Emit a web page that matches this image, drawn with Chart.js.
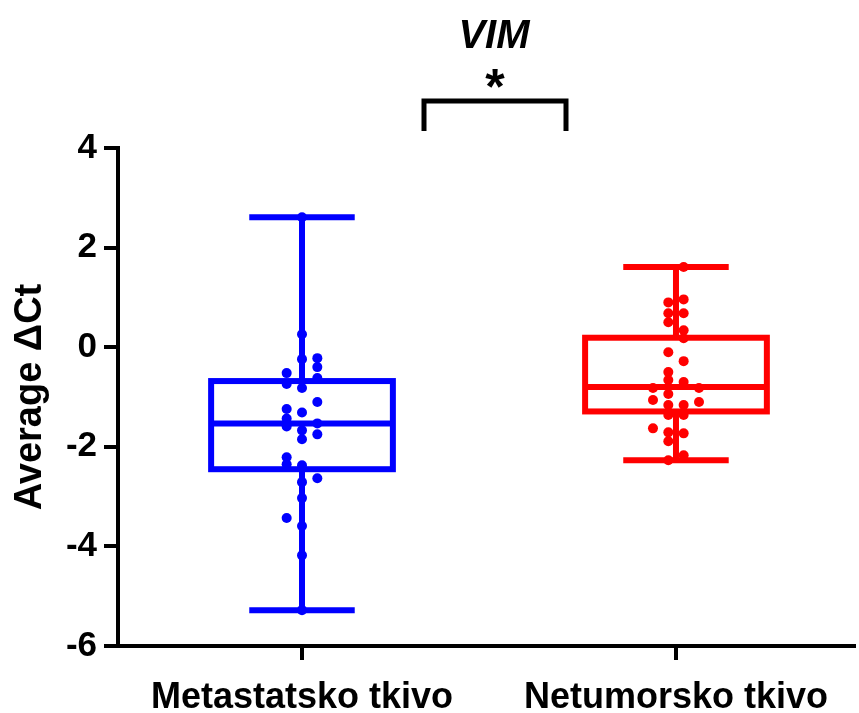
<!DOCTYPE html>
<html>
<head>
<meta charset="utf-8">
<title>VIM</title>
<script src="https://cdn.jsdelivr.net/npm/chart.js@4.4.1/dist/chart.umd.min.js"></script>
<style>
  html, body { margin: 0; padding: 0; background: #ffffff; }
  #wrap { width: 859px; height: 713px; position: relative; }
</style>
</head>
<body>
<div id="wrap"><canvas id="chart" width="859" height="713"></canvas></div>
<script>
// Groups on the x axis
const categories = ['Metastatsko tkivo', 'Netumorsko tkivo'];
const groupColors = ['#0000FF', '#FF0000'];

// Individual average ΔCt values per sample
const metastaticValues = [
  2.61, 0.26, -0.22, -0.24, -0.40, -0.52, -0.62, -0.74, -0.82, -1.10,
  -1.24, -1.31, -1.43, -1.53, -1.59, -1.67, -1.75, -1.85, -2.21, -2.35,
  -2.37, -2.63, -2.71, -3.03, -3.43, -3.59, -4.18, -5.28
];
// Scatter lane of each point (-1 left, 0 centre, 1 right)
const metastaticLanes = [
  0, 0, 1, 0, 1, -1, 1, -1, 0, 1,
  -1, 0, -1, 1, -1, 0, 1, 0, -1, -1,
  0, 1, 0, 0, -1, 0, 0, 0
];

const nontumorValues = [
  1.61, 0.96, 0.90, 0.68, 0.68, 0.50, 0.34, 0.18, -0.10, -0.28,
  -0.50, -0.66, -0.70, -0.82, -0.82, -0.94, -1.06, -1.10, -1.16, -1.16,
  -1.36, -1.36, -1.63, -1.71, -1.73, -1.89, -2.17, -2.27
];
const nontumorLanes = [
  0.5, 0.5, -0.5, -0.5, 0.5, -0.5, 0.5, 0.5, -0.5, 0.5,
  -0.5, -0.5, 0.5, -1.5, 1.5, -0.5, -1.5, 1.5, -0.5, 0.5,
  -0.5, 0.5, -1.5, -0.5, 0.5, -0.5, 0.5, -0.5
];

// Box summaries: [min, Q1, median, Q3, max]
const metastaticBox = [-5.28, -2.45, -1.53, -0.68, 2.61];
const nontumorBox = [-2.27, -1.29, -0.80, 0.19, 1.61];

// Axis ticks
const yTicks = [-6, -4, -2, 0, 2, 4];

const groupValues = [metastaticValues, nontumorValues];
const groupLanes = [metastaticLanes, nontumorLanes];
const groupBoxes = [metastaticBox, nontumorBox];

const LANE_STEP = 0.041;   // x-axis units between scatter lanes
const BOX_HALF = 0.243;    // half width of the box, x-axis units
const CAP_HALF = 0.141;    // half width of whisker caps
const LINE_W = 6;

const FONT = "'Liberation Sans', Arial, Helvetica, sans-serif";

const datasets = groupValues.map((vals, g) => ({
  label: categories[g],
  data: vals.map((v, i) => ({ x: g + groupLanes[g][i] * LANE_STEP, y: v })),
  backgroundColor: groupColors[g],
  borderColor: groupColors[g],
  borderWidth: 0,
  pointRadius: 5,
  pointHoverRadius: 5,
  showLine: false
}));

// Box-and-whisker outlines drawn under the points
const boxPlugin = {
  id: 'boxes',
  beforeDatasetsDraw(chart) {
    const { ctx, scales: { x, y } } = chart;
    ctx.save();
    ctx.lineWidth = LINE_W;
    ctx.lineCap = 'butt';
    groupBoxes.forEach((b, g) => {
      const [mn, q1, med, q3, mx] = b;
      ctx.strokeStyle = groupColors[g];
      const xc = x.getPixelForValue(g);
      const xl = x.getPixelForValue(g - BOX_HALF);
      const xr = x.getPixelForValue(g + BOX_HALF);
      const cl = x.getPixelForValue(g - CAP_HALF);
      const cr = x.getPixelForValue(g + CAP_HALF);
      const yMin = y.getPixelForValue(mn);
      const yQ1 = y.getPixelForValue(q1);
      const yMed = y.getPixelForValue(med);
      const yQ3 = y.getPixelForValue(q3);
      const yMax = y.getPixelForValue(mx);
      ctx.beginPath();
      // whiskers
      ctx.moveTo(xc, yMax); ctx.lineTo(xc, yQ3);
      ctx.moveTo(xc, yQ1); ctx.lineTo(xc, yMin);
      // caps
      ctx.moveTo(cl, yMax); ctx.lineTo(cr, yMax);
      ctx.moveTo(cl, yMin); ctx.lineTo(cr, yMin);
      // median
      ctx.moveTo(xl, yMed); ctx.lineTo(xr, yMed);
      ctx.stroke();
      ctx.strokeRect(xl, yQ3, xr - xl, yQ1 - yQ3);
    });
    ctx.restore();
  }
};

// Title, significance bracket and asterisk above the plot
const headerPlugin = {
  id: 'header',
  afterDraw(chart) {
    const { ctx } = chart;
    ctx.save();
    ctx.fillStyle = '#000';
    ctx.textAlign = 'center';
    ctx.textBaseline = 'alphabetic';
    ctx.font = 'italic bold 40px ' + FONT;
    ctx.fillText('VIM', 494, 48);

    ctx.strokeStyle = '#000';
    ctx.lineWidth = 5;
    ctx.lineJoin = 'miter';
    ctx.beginPath();
    ctx.moveTo(424, 131);
    ctx.lineTo(424, 101);
    ctx.lineTo(566, 101);
    ctx.lineTo(566, 131);
    ctx.stroke();

    ctx.font = 'bold 50px ' + FONT;
    ctx.fillText('*', 495, 104);
    ctx.restore();
  }
};

new Chart(document.getElementById('chart'), {
  type: 'scatter',
  data: { datasets },
  options: {
    responsive: false,
    animation: false,
    events: [],
    layout: { padding: { top: 148, right: 0, left: 0, bottom: 0 } },
    plugins: {
      legend: { display: false },
      tooltip: { enabled: false },
      title: { display: false }
    },
    scales: {
      x: {
        type: 'linear',
        min: -0.492,
        max: 1.476,
        afterBuildTicks(axis) {
          axis.ticks = [{ value: 0 }, { value: 1 }];
        },
        afterFit(axis) { axis.height = 67; },
        border: { display: true, color: '#000', width: 4 },
        grid: { drawOnChartArea: false, drawTicks: true, tickLength: 14, color: '#000', lineWidth: 4 },
        ticks: {
          color: '#000',
          padding: 16,
          maxRotation: 0,
          autoSkip: false,
          font: { family: FONT, size: 36, weight: 'bold' },
          callback: (v) => categories[v]
        }
      },
      y: {
        min: -6,
        max: 4,
        afterBuildTicks(axis) {
          axis.ticks = yTicks.map(v => ({ value: v }));
        },
        afterFit(axis) { axis.width = 118; },
        border: { display: true, color: '#000', width: 4 },
        grid: { drawOnChartArea: false, drawTicks: true, tickLength: 14, color: '#000', lineWidth: 4 },
        ticks: {
          color: '#000',
          padding: 7,
          font: { family: FONT, size: 35, weight: 'bold' }
        },
        title: {
          display: true,
          text: 'Average ΔCt',
          color: '#000',
          padding: { top: 8, bottom: 0 },
          font: { family: FONT, size: 38, weight: 'bold' }
        }
      }
    }
  },
  plugins: [boxPlugin, headerPlugin]
});
</script>
</body>
</html>
